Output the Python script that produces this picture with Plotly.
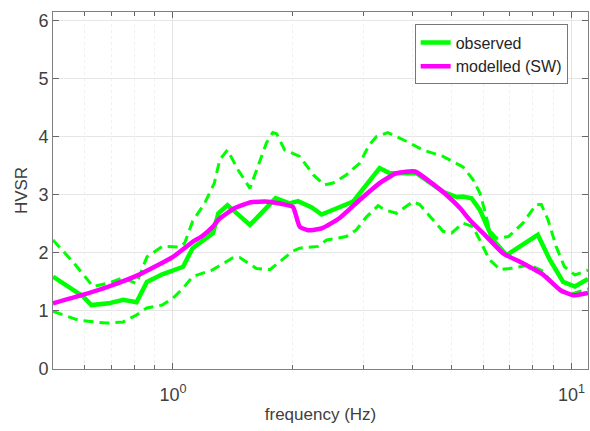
import plotly.graph_objects as go
import numpy as np

# observed mean HVSR
f_obs = [0.5, 0.595, 0.624, 0.69, 0.75, 0.81, 0.86, 0.94, 1.06, 1.12, 1.26, 1.30, 1.37, 1.56, 1.81, 1.96,
         2.06, 2.23, 2.36, 2.67, 2.83, 3.30, 3.50, 3.85, 4.08, 4.76, 5.15, 5.34, 5.61, 5.89, 6.36,
         6.87, 7.5, 8.23, 8.82, 9.53, 10.2, 11.0]
v_obs = [1.59, 1.25, 1.10, 1.13, 1.19, 1.15, 1.50, 1.63, 1.76, 2.08, 2.34, 2.68, 2.82, 2.48, 2.94, 2.85,
         2.89, 2.78, 2.66, 2.80, 2.88, 3.46, 3.37, 3.37, 3.37, 3.05, 2.96, 2.97, 2.94, 2.74, 2.22,
         1.96, 2.14, 2.31, 1.88, 1.50, 1.42, 1.55]

# observed + std
f_up = [0.5, 0.56, 0.63, 0.69, 0.75, 0.79, 0.81, 0.86, 0.94, 1.04, 1.07, 1.12, 1.20, 1.27, 1.31, 1.37,
        1.456, 1.56, 1.635, 1.716, 1.78, 1.82, 1.907, 2.08, 2.25, 2.40, 2.52, 2.72, 2.94, 3.11, 3.24,
        3.46, 3.85, 4.24, 4.76, 5.04, 5.34, 5.66, 5.89, 6.05, 6.23, 6.49, 6.95, 7.55, 8.15, 8.4,
        8.73, 9.15, 9.6, 10.2, 11.0]
v_up = [2.22, 1.85, 1.42, 1.48, 1.57, 1.50, 1.47, 1.93, 2.11, 2.10, 2.17, 2.54, 2.85, 3.20, 3.60, 3.77,
        3.43, 3.11, 3.48, 3.89, 4.07, 4.05, 3.77, 3.66, 3.34, 3.17, 3.20, 3.34, 3.54, 3.86, 4.00,
        4.07, 3.92, 3.77, 3.66, 3.57, 3.48, 3.26, 3.03, 2.74, 2.39, 2.25, 2.28, 2.51, 2.83, 2.83,
        2.57, 2.11, 1.76, 1.62, 1.70]

# observed - std
f_lo = [0.5, 0.58, 0.68, 0.75, 0.81, 0.86, 0.94, 1.0, 1.06, 1.12, 1.26, 1.41, 1.47, 1.62, 1.75, 1.83,
        2.0, 2.08, 2.31, 2.43, 2.72, 2.88, 3.06, 3.27, 3.40, 3.64, 4.0, 4.16, 4.49, 4.76, 5.0, 5.34,
        5.66, 6.0, 6.23, 6.62, 7.0, 7.86, 8.5, 8.93, 9.53, 10.1, 11.0]
v_lo = [0.99, 0.84, 0.79, 0.81, 0.93, 1.05, 1.10, 1.22, 1.39, 1.59, 1.71, 1.91, 1.92, 1.73, 1.71, 1.82,
        2.03, 2.08, 2.11, 2.22, 2.28, 2.39, 2.62, 2.81, 2.74, 2.68, 2.88, 2.83, 2.57, 2.37, 2.34, 2.51,
        2.45, 2.11, 1.88, 1.71, 1.73, 1.79, 1.68, 1.48, 1.33, 1.30, 1.38]

# modelled (SW)
f_mod = [0.5, 0.59, 0.69, 0.82, 1.0, 1.12, 1.18, 1.26, 1.30, 1.43, 1.57, 1.73, 1.91, 2.0, 2.08, 2.18,
         2.36, 2.62, 2.94, 3.30, 3.64, 4.05, 4.40, 4.85, 5.25, 5.55, 6.12, 6.74, 7.55, 8.5, 9.36,
         10.1, 11.0]
v_mod = [1.13, 1.27, 1.42, 1.62, 1.93, 2.19, 2.28, 2.45, 2.57, 2.77, 2.87, 2.88, 2.83, 2.79, 2.45, 2.39,
         2.42, 2.60, 2.91, 3.20, 3.37, 3.40, 3.23, 3.00, 2.77, 2.57, 2.28, 1.99, 1.82, 1.62, 1.36,
         1.27, 1.31]

GREEN = "#00ff00"
MAGENTA = "#ff00ff"
TXT = "#404040"

fig = go.Figure()
fig.add_trace(go.Scatter(x=f_up, y=v_up, mode="lines", showlegend=False,
                         line=dict(color=GREEN, width=3, dash="10px,6px")))
fig.add_trace(go.Scatter(x=f_lo, y=v_lo, mode="lines", showlegend=False,
                         line=dict(color=GREEN, width=3, dash="10px,6px")))
fig.add_trace(go.Scatter(x=f_obs, y=v_obs, mode="lines", name="observed",
                         line=dict(color=GREEN, width=4.5)))
fig.add_trace(go.Scatter(x=f_mod, y=v_mod, mode="lines", name="modelled (SW)",
                         line=dict(color=MAGENTA, width=4.5, shape="spline", smoothing=0.5)))

minor_x = [0.6, 0.7, 0.8, 0.9, 2, 3, 4, 5, 6, 7, 8, 9]

fig.update_layout(
    width=590, height=431,
    margin=dict(l=53, r=2, t=12, b=62),
    paper_bgcolor="white", plot_bgcolor="white",
    font=dict(family="Liberation Sans, Arial, sans-serif", color=TXT, size=17),
    legend=dict(x=0.676, y=0.965, xanchor="left", yanchor="top",
                bgcolor="white", bordercolor="#777777", borderwidth=1,
                font=dict(size=16, color="#262626"), itemwidth=30,
                tracegroupgap=0),
    xaxis=dict(
        type="log", range=[np.log10(0.5), np.log10(11)], automargin=False,
        tickmode="array", tickvals=[1, 10], ticktext=["10<sup>0</sup>", "10<sup>1</sup>"],
        ticks="inside", ticklen=6, tickcolor="#666666", ticklabelstandoff=9,
        showline=True, linecolor="#808080", linewidth=1, mirror="ticks",
        showgrid=True, gridcolor="#e3e3e3", gridwidth=1,
        minor=dict(tickvals=minor_x, ticks="inside", ticklen=4, tickcolor="#666666",
                   showgrid=True, gridcolor="#f0f0f0", griddash="dot", gridwidth=1),
        tickfont=dict(size=18, color=TXT),
        title=dict(text="frequency (Hz)", font=dict(size=17, color=TXT), standoff=4),
        zeroline=False,
    ),
    yaxis=dict(
        range=[0, 6.145], automargin=False,
        tickmode="array", tickvals=[0, 1, 2, 3, 4, 5, 6],
        ticks="inside", ticklen=6, tickcolor="#666666",
        showline=True, linecolor="#808080", linewidth=1, mirror="ticks",
        showgrid=True, gridcolor="#e6e6e6", gridwidth=1,
        tickfont=dict(size=18, color=TXT),
        title=dict(text="HVSR", font=dict(size=17, color=TXT), standoff=6),
        zeroline=False,
    ),
)

fig.write_html("out.html", config={"displayModeBar": False},
               post_script="document.body.style.margin='0';")
